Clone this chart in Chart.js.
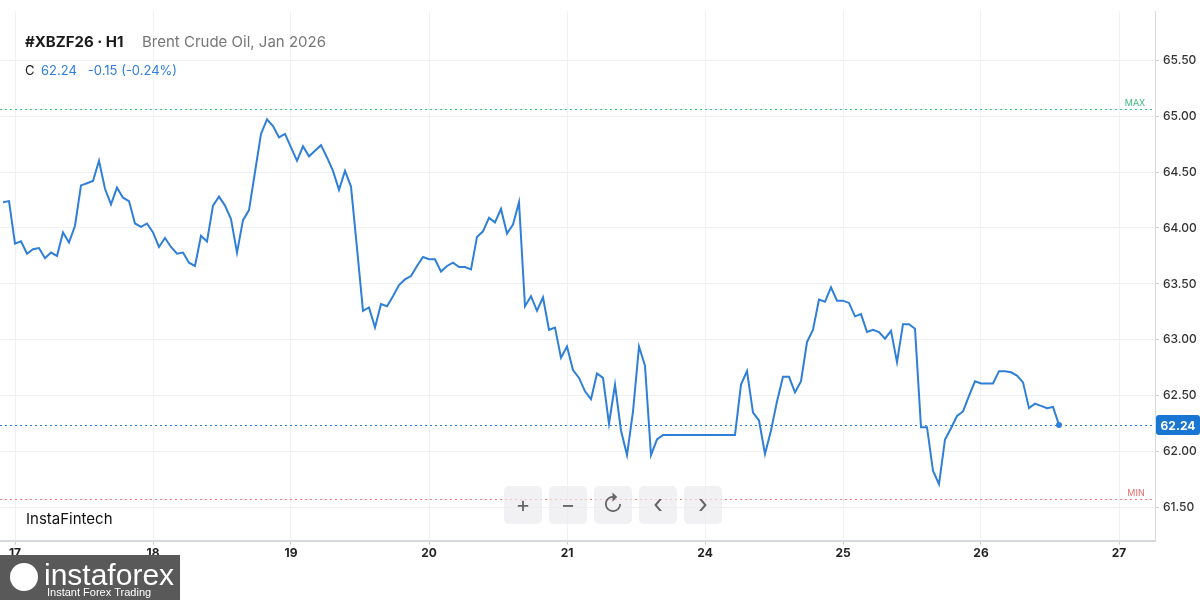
<!DOCTYPE html>
<html>
<head>
<meta charset="utf-8">
<script src="https://cdn.jsdelivr.net/npm/chart.js@4"></script>
<style>
  html, body { margin: 0; padding: 0; background: #fff; }
  #wrap { width: 1200px; height: 600px; position: relative; }
</style>
</head>
<body>
<div id="wrap"><canvas id="chart" width="1200" height="600"></canvas></div>
<script>
// hourly closes, 23 bars per trading day
const closes = [
  64.23, 64.24, 63.86, 63.88, 63.77, 63.81, 63.82, 63.73, 63.78, 63.75,
  63.96, 63.87, 64.02, 64.38, 64.40, 64.42, 64.60, 64.35, 64.21, 64.36,
  64.27, 64.24, 64.04, 64.01, 64.04, 63.96, 63.83, 63.91, 63.83, 63.77,
  63.78, 63.69, 63.66, 63.93, 63.88, 64.20, 64.28, 64.20, 64.08, 63.78,
  64.07, 64.16, 64.50, 64.84, 64.97, 64.91, 64.81, 64.84, 64.72, 64.60,
  64.73, 64.64, 64.69, 64.74, 64.63, 64.51, 64.34, 64.51, 64.37, 63.82,
  63.26, 63.29, 63.11, 63.32, 63.30, 63.39,
  63.49, 63.54, 63.57, 63.66, 63.74, 63.72, 63.72, 63.61, 63.66, 63.69,
  63.65, 63.65, 63.63, 63.92, 63.97, 64.09, 64.05, 64.17, 63.95, 64.03,
  64.23, 63.30, 63.39, 63.26, 63.38, 63.09, 63.11, 62.84, 62.94, 62.73,
  62.66, 62.54, 62.47, 62.70, 62.66, 62.25, 62.60, 62.19, 61.97, 62.36,
  62.94, 62.77, 61.97, 62.11, 62.15, 62.15,
  62.15, 62.15, 62.15, 62.15, 62.15, 62.15, 62.15, 62.15, 62.15, 62.15, 62.15,
  62.60, 62.72, 62.35, 62.28, 61.98, 62.19, 62.45, 62.67, 62.67, 62.53,
  62.63, 62.98, 63.09, 63.36, 63.34, 63.47, 63.35, 63.35, 63.33, 63.21,
  63.23, 63.07, 63.09, 63.07, 63.01, 63.08, 62.80, 63.14, 63.14, 63.10,
  62.22, 62.22, 61.83, 61.71, 62.11, 62.21, 62.32, 62.36, 62.50, 62.63,
  62.61, 62.61, 62.61, 62.72, 62.72, 62.71, 62.68, 62.62, 62.39, 62.43,
  62.41, 62.39, 62.40, 62.24
];
const dayLabels = ['17', '18', '19', '20', '21', '24', '25', '26', '27'];
const dayStarts = [2, 25, 48, 71, 94, 117, 140, 163, 186];
const priceTicks = [61.5, 62.0, 62.5, 63.0, 63.5, 64.0, 64.5, 65.0, 65.5];
const lastPrice = 62.24;
const maxLevel = 65.06;
const minLevel = 61.58;

const blue = '#2f7fd8';
const font = 'Inter, "Noto Sans", sans-serif';

const overlay = {
  id: 'overlay',
  beforeDatasetsDraw(chart) {
    const { ctx, chartArea: a, scales: { y } } = chart;
    ctx.save();
    ctx.setLineDash([2, 3]);
    ctx.lineWidth = 1.2;
    [[maxLevel, '#3fbf82'], [minLevel, '#f27a7a'], [lastPrice, '#2a7fe0']].forEach(([v, c]) => {
      const py = Math.round(y.getPixelForValue(v)) + 0.5;
      ctx.strokeStyle = c;
      ctx.beginPath(); ctx.moveTo(a.left, py); ctx.lineTo(a.right, py); ctx.stroke();
    });
    ctx.setLineDash([]);
    ctx.font = '9px ' + font;
    ctx.textAlign = 'center';
    ctx.fillStyle = '#3fb87c';
    ctx.fillText('MAX', 1135, y.getPixelForValue(maxLevel) - 3);
    ctx.fillStyle = '#ee6b6b';
    ctx.fillText('MIN', 1136, y.getPixelForValue(minLevel) - 3);
    ctx.restore();
  },
  afterDraw(chart) {
    const { ctx, chartArea: a, scales: { x, y } } = chart;
    ctx.save();
    // last point marker
    const lx = x.getPixelForValue(closes.length - 1), ly = y.getPixelForValue(lastPrice);
    ctx.fillStyle = blue;
    ctx.beginPath(); ctx.arc(lx, ly, 3, 0, Math.PI * 2); ctx.fill();
    // price badge
    ctx.fillStyle = '#1976d2';
    ctx.beginPath(); ctx.roundRect(a.right + 1, ly - 10, 44, 20, 3); ctx.fill();
    ctx.fillStyle = '#fff';
    ctx.font = 'bold 12px ' + font;
    ctx.textAlign = 'center'; ctx.textBaseline = 'middle';
    ctx.fillText(lastPrice.toFixed(2), a.right + 23, ly + 1);
    // header
    ctx.textAlign = 'left'; ctx.textBaseline = 'alphabetic';
    ctx.fillStyle = '#1a1a1a';
    ctx.font = 'bold 15px ' + font;
    ctx.fillText('#XBZF26 · H1', 25, 47);
    ctx.fillStyle = '#777';
    ctx.font = '15px ' + font;
    ctx.fillText('Brent Crude Oil, Jan 2026', 142, 47);
    ctx.fillStyle = '#1a1a1a';
    ctx.font = '13px ' + font;
    ctx.fillText('C', 25, 75);
    ctx.fillStyle = '#2e7fd9';
    ctx.fillText('62.24   -0.15 (-0.24%)', 41, 75);
    ctx.fillStyle = '#111';
    ctx.font = '15px ' + font;
    ctx.fillText('InstaFintech', 26, 524);
    // nav buttons
    const btns = ['+', '−', '↻', '‹', '›'];
    btns.forEach((b, i) => {
      const bx = 504 + i * 45;
      ctx.fillStyle = 'rgba(235,235,238,0.7)';
      ctx.beginPath(); ctx.roundRect(bx, 486, 38, 38, 5); ctx.fill();
      ctx.fillStyle = '#666';
      ctx.font = (i > 2 ? '26px ' : '22px ') + font;
      ctx.textAlign = 'center'; ctx.textBaseline = 'middle';
      ctx.fillText(b, bx + 19, 505);
    });
    // brand box
    ctx.fillStyle = '#595959';
    ctx.fillRect(0, 555, 180, 45);
    ctx.fillStyle = '#fff';
    ctx.textAlign = 'left'; ctx.textBaseline = 'alphabetic';
    ctx.font = '30px "Liberation Sans Narrow", "Liberation Sans", sans-serif';
    ctx.fillText('instaforex', 44, 585);
    ctx.font = '11px "Liberation Sans", sans-serif';
    ctx.fillText('Instant Forex Trading', 47, 596);
    ctx.beginPath(); ctx.arc(24, 577, 14, 0, Math.PI * 2); ctx.fill();
    ctx.restore();
  }
};

new Chart(document.getElementById('chart'), {
  type: 'line',
  data: {
    datasets: [{
      data: closes.map((v, i) => ({ x: i, y: v })),
      borderColor: blue,
      borderWidth: 2,
      pointRadius: 0,
      tension: 0
    }]
  },
  options: {
    responsive: false,
    animation: false,
    layout: { padding: { left: 0, right: 0, top: 0, bottom: 37 } },
    plugins: { legend: { display: false }, tooltip: { enabled: false } },
    scales: {
      x: {
        type: 'linear',
        min: -0.5,
        max: 192,
        afterBuildTicks: s => { s.ticks = dayStarts.map(v => ({ value: v })); },
        ticks: {
          autoSkip: false, maxRotation: 0, padding: 2,
          color: '#222', font: { family: font, size: 12, weight: 'bold' },
          callback: (v) => dayLabels[dayStarts.indexOf(v)]
        },
        grid: { color: '#f0f1f4', tickLength: 4, tickColor: '#ccc' },
        border: { color: '#d5d8dd', width: 2 }
      },
      y: {
        position: 'right',
        min: 61.206,
        max: 65.937,
        afterBuildTicks: s => { s.ticks = priceTicks.map(v => ({ value: v })); },
        afterFit: s => { s.width = 45; },
        ticks: {
          padding: 4, color: '#333',
          font: { family: font, size: 12, weight: '500' },
          callback: v => v.toFixed(2)
        },
        grid: { color: '#eef0f3', tickLength: 4, tickColor: '#ccc' },
        border: { color: '#d5d8dd' }
      }
    }
  },
  plugins: [overlay]
});
</script>
</body>
</html>
